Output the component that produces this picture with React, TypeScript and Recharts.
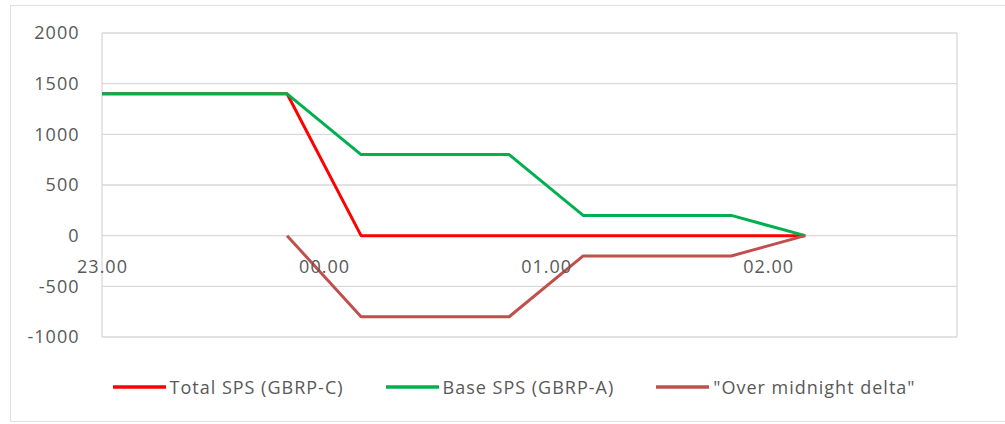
import React from 'react';
import { LineChart, Line, XAxis, YAxis, CartesianGrid, ReferenceDot } from 'recharts';

// minutes after 23.00
const times = [0, 50, 70, 110, 130, 170, 190];
const totalSps = [1400, 1400, 0, 0, 0, 0, 0];
const baseSps = [1400, 1400, 800, 800, 200, 200, 0];
const overMidnight: (number | null)[] = [null, 0, -800, -800, -200, -200, 0];

const seriesNames = ['Total SPS (GBRP-C)', 'Base SPS (GBRP-A)', '"Over midnight delta"'];
const seriesColors = ['#FF0000', '#00B050', '#C0504D'];

const hourTicks = [0, 60, 120, 180];
const hourLabels = ['23.00', '00.00', '01.00', '02.00'];
const yTicks = [-1000, -500, 0, 500, 1000, 1500, 2000];

const data = times.map((t, i) => ({
  t,
  total: totalSps[i],
  base: baseSps[i],
  delta: overMidnight[i],
}));

const FONT = '"Open Sans", sans-serif';
const TEXT = '#595959';
const GRID = '#D9D9D9';
const FS = 18;
const LS = 1.0;

export default function App() {
  const keys = ['total', 'base', 'delta'];
  return (
    <div style={{ position: 'absolute', left: 0, top: 0, width: 1005, height: 424, background: '#fff', overflow: 'hidden' }}>
      <div
        style={{
          position: 'absolute',
          left: 10,
          top: 5,
          width: 1010,
          height: 417,
          border: '1px solid #E0E0E0',
          boxSizing: 'border-box',
        }}
      />
      <div style={{ position: 'absolute', left: 0, top: 0 }}>
        <LineChart
          width={1005}
          height={424}
          data={data}
          margin={{ top: 33, right: 48, bottom: 87, left: 42 }}
        >
          <CartesianGrid stroke={GRID} strokeWidth={1.3} />
          <XAxis
            dataKey="t"
            type="number"
            domain={[0, 231]}
            ticks={hourTicks}
            tick={false}
            axisLine={false}
            tickLine={false}
            height={0}
          />
          <YAxis
            type="number"
            domain={[-1000, 2000]}
            ticks={yTicks}
            axisLine={false}
            tickLine={false}
            width={60}
            tickMargin={16.5}
            tick={{ fill: TEXT, fontFamily: FONT, fontSize: FS, letterSpacing: LS }}
          />
          {keys.map((k, i) => (
            <Line
              key={k}
              type="linear"
              dataKey={k}
              name={seriesNames[i]}
              stroke={seriesColors[i]}
              strokeWidth={3}
              dot={false}
              connectNulls={false}
              isAnimationActive={false}
              strokeLinejoin="round"
            />
          ))}
          {hourTicks.map((t, i) => (
            <ReferenceDot
              key={t}
              x={t}
              y={0}
              r={0}
              fill="none"
              stroke="none"
              label={{
                value: hourLabels[i],
                position: 'bottom',
                offset: 25,
                fill: TEXT,
                fontFamily: FONT,
                fontSize: FS,
                letterSpacing: LS,
                dx: LS / 2,
              }}
            />
          ))}
        </LineChart>
      </div>
      <div
        style={{
          position: 'absolute',
          left: 0,
          width: 1028,
          top: 374,
          height: 26,
          display: 'flex',
          justifyContent: 'center',
          alignItems: 'center',
          fontFamily: FONT,
          fontSize: FS,
          letterSpacing: LS,
          color: TEXT,
        }}
      >
        {seriesNames.map((n, i) => (
          <div key={n} style={{ display: 'flex', alignItems: 'center', marginLeft: i === 0 ? 0 : 42 }}>
            <svg width={53} height={6} style={{ marginRight: 4 }}>
              <line x1={0} y1={3} x2={53} y2={3} stroke={seriesColors[i]} strokeWidth={3.5} />
            </svg>
            <span style={{ whiteSpace: 'nowrap' }}>{n}</span>
          </div>
        ))}
      </div>
    </div>
  );
}
